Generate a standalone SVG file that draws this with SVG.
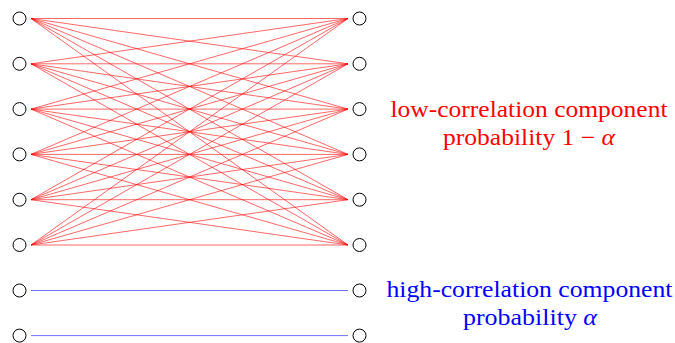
<svg xmlns="http://www.w3.org/2000/svg" width="675" height="343" viewBox="0 0 675 343">
<style>
.n{fill:#fff;stroke:#000;stroke-width:1}
.r{stroke:#ff0000;stroke-width:0.8;stroke-opacity:0.75;fill:none}
.b{stroke:#0000ff;stroke-width:0.8;stroke-opacity:0.7;fill:none}
.t{font-family:"Liberation Serif",serif;font-size:23px;text-anchor:middle}
.red{fill:#ff0000}
.blue{fill:#0000ff}
</style>
<rect width="675" height="343" fill="#fff"/>
<g id="connectors">
<g class="r">
<path d="M31 18.5L348 18.5M31 18.5L348 63.8M31 18.5L348 109.1M31 18.5L348 154.4M31 18.5L348 199.7M31 18.5L348 245"/>
<path d="M31 63.8L348 18.5M31 63.8L348 63.8M31 63.8L348 109.1M31 63.8L348 154.4M31 63.8L348 199.7M31 63.8L348 245"/>
<path d="M31 109.1L348 18.5M31 109.1L348 63.8M31 109.1L348 109.1M31 109.1L348 154.4M31 109.1L348 199.7M31 109.1L348 245"/>
<path d="M31 154.4L348 18.5M31 154.4L348 63.8M31 154.4L348 109.1M31 154.4L348 154.4M31 154.4L348 199.7M31 154.4L348 245"/>
<path d="M31 199.7L348 18.5M31 199.7L348 63.8M31 199.7L348 109.1M31 199.7L348 154.4M31 199.7L348 199.7M31 199.7L348 245"/>
<path d="M31 245L348 18.5M31 245L348 63.8M31 245L348 109.1M31 245L348 154.4M31 245L348 199.7M31 245L348 245"/>
</g>
<g class="b">
<path d="M31 290.5L348 290.5M31 335.6L348 335.6"/>
</g>
</g>
<g id="L1"><circle class="n" cx="19.5" cy="18.5" r="6.5"/></g>
<g id="L2"><circle class="n" cx="19.5" cy="63.8" r="6.5"/></g>
<g id="L3"><circle class="n" cx="19.5" cy="109.1" r="6.5"/></g>
<g id="L4"><circle class="n" cx="19.5" cy="154.4" r="6.5"/></g>
<g id="L5"><circle class="n" cx="19.5" cy="199.7" r="6.5"/></g>
<g id="L6"><circle class="n" cx="19.5" cy="245" r="6.5"/></g>
<g id="L7"><circle class="n" cx="19.5" cy="290.5" r="6.5"/></g>
<g id="L8"><circle class="n" cx="19.5" cy="335.6" r="6.5"/></g>
<g id="R1"><circle class="n" cx="359.5" cy="18.5" r="6.5"/></g>
<g id="R2"><circle class="n" cx="359.5" cy="63.8" r="6.5"/></g>
<g id="R3"><circle class="n" cx="359.5" cy="109.1" r="6.5"/></g>
<g id="R4"><circle class="n" cx="359.5" cy="154.4" r="6.5"/></g>
<g id="R5"><circle class="n" cx="359.5" cy="199.7" r="6.5"/></g>
<g id="R6"><circle class="n" cx="359.5" cy="245" r="6.5"/></g>
<g id="R7"><circle class="n" cx="359.5" cy="290.5" r="6.5"/></g>
<g id="R8"><circle class="n" cx="359.5" cy="335.6" r="6.5"/></g>
<g id="low-label">
<text class="t red" x="529" y="116.5" textLength="277" lengthAdjust="spacingAndGlyphs">low-correlation component</text>
<text class="t red" x="529" y="145" textLength="172" lengthAdjust="spacingAndGlyphs">probability 1 − <tspan font-style="italic">α</tspan></text>
</g>
<g id="high-label">
<text class="t blue" x="529.5" y="297" textLength="286" lengthAdjust="spacingAndGlyphs">high-correlation component</text>
<text class="t blue" x="530" y="325" textLength="134" lengthAdjust="spacingAndGlyphs">probability <tspan font-style="italic">α</tspan></text>
</g>
</svg>
